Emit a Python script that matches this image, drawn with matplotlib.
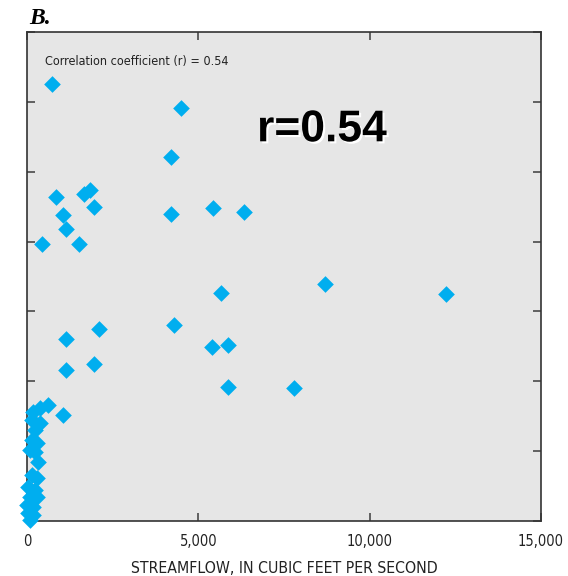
import matplotlib
matplotlib.use("Agg")
import matplotlib.pyplot as plt
import matplotlib.patheffects as pe
from matplotlib import font_manager

# Streamflow (cfs) and the plotted variable (unlabelled y axis, 0-7 units)
streamflow = [730, 4490, 4200, 850, 1660, 1840, 1960, 1050, 1140, 440, 1520,
              4200, 5430, 6330, 8700, 12230, 5660, 4290, 2100, 1140, 5400,
              5870, 1140, 1960, 5870, 7790, 1050,
              175, 380, 610, 137, 380, 233, 137, 283, 88, 233, 330, 137, 283,
              38, 233, 88, 283, 10, 184, 38, 184, 88]
values = [6.25, 5.91, 5.21, 4.64, 4.68, 4.74, 4.49, 4.38, 4.18, 3.96, 3.96,
          4.39, 4.48, 4.43, 3.39, 3.25, 3.26, 2.80, 2.75, 2.60, 2.49,
          2.52, 2.16, 2.25, 1.92, 1.90, 1.52,
          1.56, 1.62, 1.66, 1.44, 1.40, 1.30, 1.16, 1.12, 1.02, 0.99, 0.84, 0.66, 0.62,
          0.49, 0.44, 0.34, 0.34, 0.23, 0.20, 0.11, 0.09, 0.01]

x_ticks = [0, 5000, 10000, 15000]
x_ticklabels = ["0", "5,000", "10,000", "15,000"]
y_ticks = [0, 1, 2, 3, 4, 5, 6, 7]
xlabel = "STREAMFLOW, IN CUBIC FEET PER SECOND"
note = "Correlation coefficient (r) = 0.54"
big_note = "r=0.54"
panel = "B."

names = {f.name for f in font_manager.fontManager.ttflist}
if "Liberation Sans Narrow" in names:
    narrow = dict(family=["Liberation Sans Narrow", "DejaVu Sans"])
else:
    narrow = dict(family=["DejaVu Sans"], fontstretch="condensed")

fig = plt.figure(figsize=(5.68, 5.76), dpi=100)
ax = fig.add_axes([27/568, 55/576, 514/568, 489/576])
ax.set_facecolor("#e6e6e6")

ax.scatter(streamflow, values, marker="D", s=72, color="#00aeef",
           linewidths=0, zorder=3, clip_on=False)

ax.set_xlim(0, 15000)
ax.set_ylim(0, 7)
ax.set_xticks(x_ticks)
ax.set_xticklabels(x_ticklabels, fontsize=10.5, color="#222222", **narrow)
ax.set_yticks(y_ticks)
ax.set_yticklabels([])
ax.tick_params(direction="in", length=6, width=1.3, color="#555555",
               top=True, right=True, pad=9)
for s in ax.spines.values():
    s.set_color("#333333")
    s.set_linewidth(1.2)

ax.set_xlabel(xlabel, fontsize=11.3, labelpad=9, color="#222222", **narrow)

ax.text(0.035, 0.939, note, transform=ax.transAxes,
        fontsize=9, va="center", ha="left", color="#222222", **narrow)

t = ax.text(0.574, 0.80, big_note, transform=ax.transAxes,
            family=["Liberation Sans", "DejaVu Sans"], fontweight="bold",
            fontsize=32, ha="center", va="center", color="black")
t.set_path_effects([pe.withSimplePatchShadow(offset=(1.5, -1.5),
                                             shadow_rgbFace="white", alpha=1)])

fig.text(29/568, 1 - 18/576, panel, family=["Liberation Serif", "DejaVu Serif"],
         fontweight="bold", style="italic", fontsize=17, ha="left", va="center")

fig.savefig("out.png", dpi=100)
